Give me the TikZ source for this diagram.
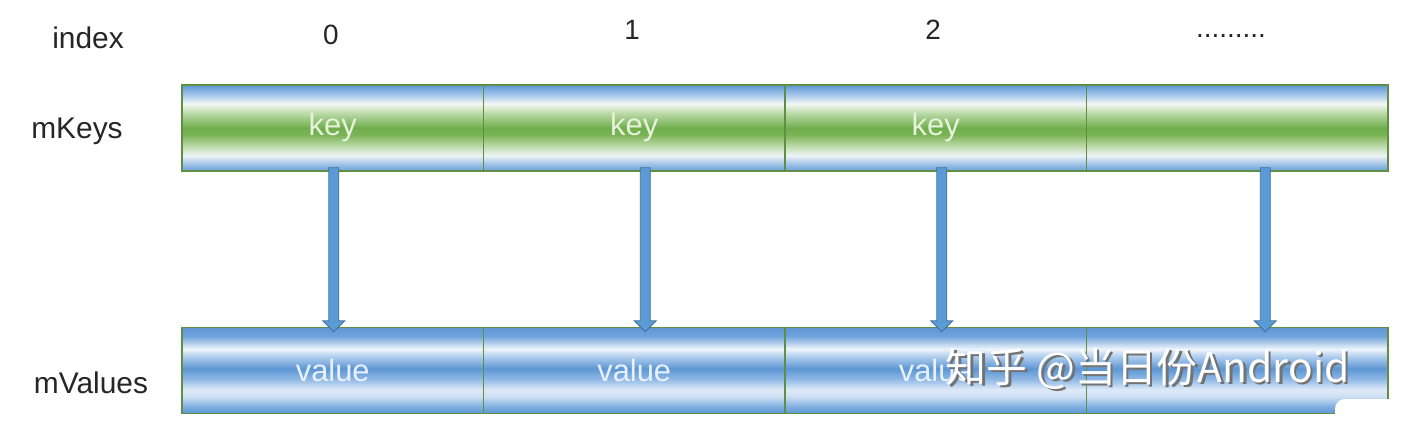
\documentclass[tikz,border=0pt]{standalone}
\usepackage{fontspec}
\setmainfont{Liberation Sans}
\newfontfamily\cjkfont{Noto Sans CJK SC}
\usetikzlibrary{calc}
\definecolor{cellborder}{HTML}{5E8F45}
\definecolor{arrfill}{HTML}{5B9BD5}
\definecolor{arrborder}{HTML}{41719C}
\definecolor{keytext}{HTML}{E6F2DC}
\definecolor{valtext}{HTML}{E8F1FB}
\definecolor{ka}{HTML}{6A9FD8}
\definecolor{kb}{HTML}{9FC2E8}
\definecolor{kc}{HTML}{EEF4F6}
\definecolor{kd}{HTML}{C2DDB0}
\definecolor{ke}{HTML}{7AB456}
\definecolor{kf}{HTML}{70AE4C}
\definecolor{kg}{HTML}{B9D9A6}
\definecolor{kh}{HTML}{F4F8F4}
\definecolor{ki}{HTML}{A9C9EC}
\definecolor{kj}{HTML}{5F97D6}
\definecolor{va}{HTML}{5E97D4}
\definecolor{vb}{HTML}{7EAEE0}
\definecolor{vc}{HTML}{CFE0F4}
\definecolor{vd}{HTML}{DDE9F7}
\definecolor{ve}{HTML}{8FB8E6}
\definecolor{vf}{HTML}{5D96D4}
\definecolor{vg}{HTML}{A8C8EC}
\definecolor{vh}{HTML}{EEF4FA}
\definecolor{vi}{HTML}{6FA3DC}
\pgfdeclareverticalshading{keyshade}{100bp}{%
  color(0bp)=(ka);
  color(25bp)=(ka);
  color(29bp)=(kb);
  color(34bp)=(kc);
  color(39bp)=(kd);
  color(46bp)=(ke);
  color(50bp)=(kf);
  color(58.5bp)=(kg);
  color(64bp)=(kh);
  color(69bp)=(ki);
  color(75bp)=(kj);
  color(100bp)=(kj)}
\pgfdeclareverticalshading{valshade}{100bp}{%
  color(0bp)=(va);
  color(25bp)=(va);
  color(29bp)=(vb);
  color(35bp)=(vc);
  color(39bp)=(vd);
  color(45bp)=(ve);
  color(51bp)=(vf);
  color(57.5bp)=(vg);
  color(62.5bp)=(vh);
  color(70bp)=(vi);
  color(75bp)=(va);
  color(100bp)=(va)}
\tikzset{
  lbl/.style={font=\fontsize{30}{36}\selectfont, text=black!85, inner sep=0},
  idx/.style={font=\fontsize{28}{34}\selectfont, text=black!85, inner sep=0},
  cellbase/.style={minimum width=301.5bp, minimum height=86bp, inner sep=0,
    draw=cellborder, line width=1.5bp, font=\fontsize{31}{36}\selectfont},
  keycell/.style={cellbase, shading=keyshade, text=keytext},
  valcell/.style={cellbase, shading=valshade, text=valtext},
  arrowbody/.style={fill=arrfill, draw=arrborder, line width=0.8bp, line join=miter},
  watermark/.style={font=\cjkfont\fontsize{41}{48}\selectfont, text=white, inner sep=0}
}
\begin{document}
\begin{tikzpicture}[x=1bp,y=-1bp]
\useasboundingbox[fill=white] (0,0) rectangle (1412,428);
% row labels
\node[lbl] (lindex) at (88,38) {index};
\node[lbl] (lkeys) at (77,131) {mKeys};
\node[lbl] (lvals) at (91,383) {mValues};
% index numbers
\node[idx] (i0) at (331,35) {0};
\node[idx] (i1) at (632,30) {1};
\node[idx] (i2) at (933,30) {2};
\node[idx] (i3) at (1231,36) {.........};
% cells
\node[keycell] (k0) at (332.75,128) {key};
\node[keycell] (k1) at (634.25,128) {key};
\node[keycell] (k2) at (935.75,128) {key};
\node[keycell] (k3) at (1237.25,128) {};
\node[valcell] (v0) at (332.75,370.5) {value};
\node[valcell] (v1) at (634.25,370.5) {value};
\node[valcell] (v2) at (935.75,370.5) {value};
\node[valcell] (v3) at (1237.25,370.5) {};
% arrows
\foreach \i/\dx in {0/1,1/11,2/6,3/28}{
  \coordinate (a\i) at ($(k\i.south)+(\dx,-4)$);
  \coordinate (b\i) at ($(v\i.north)+(\dx,5)$);
  \filldraw[arrowbody] ($(a\i)+(-5,0)$) -- ($(b\i)+(-5,-11)$) -- ($(b\i)+(-11,-11)$)
    -- (b\i) -- ($(b\i)+(11,-11)$) -- ($(b\i)+(5,-11)$) -- ($(a\i)+(5,0)$) -- cycle;
}
% watermark
\node[watermark, text=black!55, anchor=west] (wms) at (948,371) {知乎 @当日份Android};
\node[watermark, anchor=west] (wm) at (945.5,368.5) {知乎 @当日份Android};
% corner overlay
\fill[white, rounded corners=10bp] (1335,399) rectangle (1430,440);
\end{tikzpicture}
\end{document}
